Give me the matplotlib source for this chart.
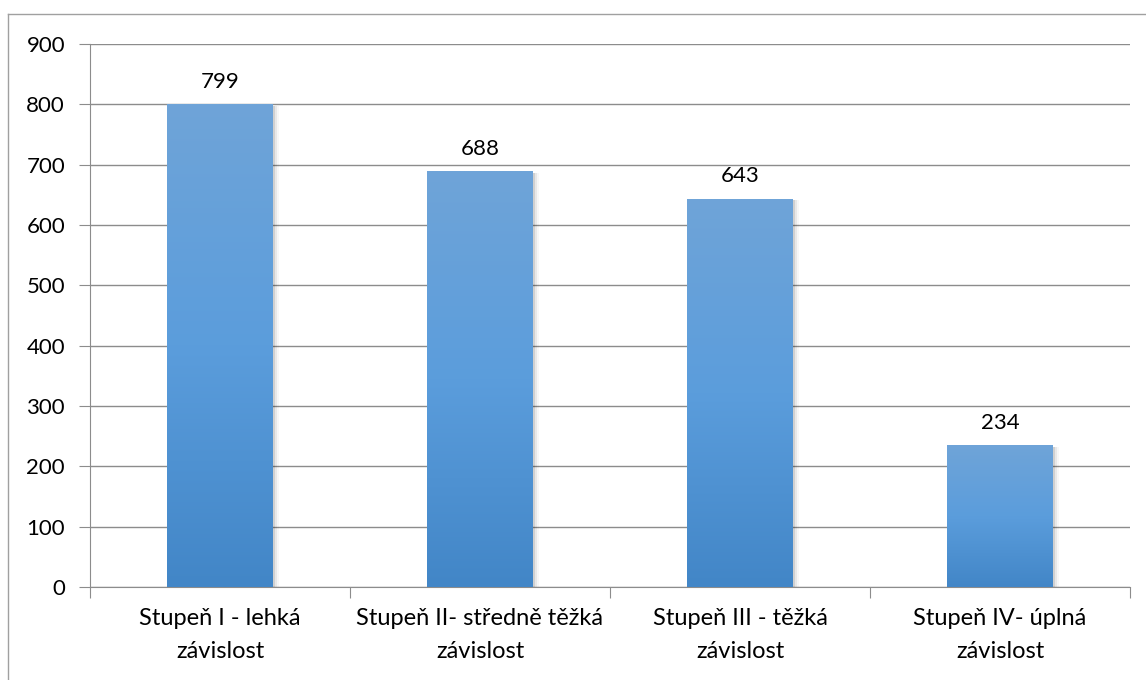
import matplotlib
matplotlib.use("Agg")
import matplotlib.pyplot as plt
import numpy as np
from matplotlib.colors import LinearSegmentedColormap
from matplotlib.patches import Rectangle
from matplotlib.lines import Line2D

categories = ["Stupeň I - lehká\nzávislost", "Stupeň II- středně těžká\nzávislost",
              "Stupeň III - těžká\nzávislost", "Stupeň IV- úplná\nzávislost"]
values = [799, 688, 643, 234]
yticks = [0, 100, 200, 300, 400, 500, 600, 700, 800, 900]

plt.rcParams['font.family'] = ['Lato', 'DejaVu Sans']

W, H = 1146, 680
fig = plt.figure(figsize=(W / 100, H / 100), dpi=100)
ax = fig.add_axes([90 / W, 1 - 587 / H, (1130 - 90) / W, (587 - 44) / H])

n = len(categories)
x = np.arange(n)
bw = 0.405
FS = 16

cmap = LinearSegmentedColormap.from_list("g", ["#4286C7", "#5B9DDC", "#6FA4D8"])
grad = np.linspace(0, 1, 256).reshape(-1, 1)
for xi, v in zip(x, values):
    for k, a in enumerate([0.10, 0.06, 0.03]):
        ax.add_patch(Rectangle((xi - bw / 2 + 0.004 * (k + 1), -4), bw + 0.004 * (k + 1), v + 2,
                               facecolor="black", alpha=a, edgecolor="none", zorder=2))
    ax.imshow(grad, extent=(xi - bw / 2, xi + bw / 2, 0, v), origin="lower",
              cmap=cmap, aspect="auto", zorder=3)
    ax.text(xi, v + 22, f"{v}", ha="center", va="bottom", fontsize=FS, color="#000000", zorder=4)
ax.set_xlim(-0.5, n - 0.5)
ax.set_ylim(0, 900)

ax.set_yticks(yticks)
ax.set_yticklabels([str(t) for t in yticks], fontsize=FS)
ax.yaxis.grid(True, color="#8C8C8C", linewidth=1)
ax.set_axisbelow(True)

ax.set_xticks(np.arange(-0.5, n, 1.0))
ax.set_xticklabels([])
ax.set_xticks(x, minor=True)
ax.set_xticklabels(categories, minor=True, fontsize=17, linespacing=1.72)
ax.tick_params(axis="x", which="minor", length=0, pad=15)
ax.tick_params(axis="x", which="major", length=8, color="#8C8C8C", direction="out")
ax.tick_params(axis="y", length=8, color="#8C8C8C", direction="out", pad=10)

for s in ["top", "right"]:
    ax.spines[s].set_visible(False)
ax.spines["left"].set_color("#8C8C8C")
ax.spines["bottom"].set_color("#8C8C8C")

fig.add_artist(Line2D([8 / W, 8 / W], [0, 1 - 14 / H], transform=fig.transFigure, color="#A0A0A0", lw=1))
fig.add_artist(Line2D([8 / W, 1], [1 - 14 / H, 1 - 14 / H], transform=fig.transFigure, color="#A0A0A0", lw=1))

fig.savefig("out.png", dpi=100)
